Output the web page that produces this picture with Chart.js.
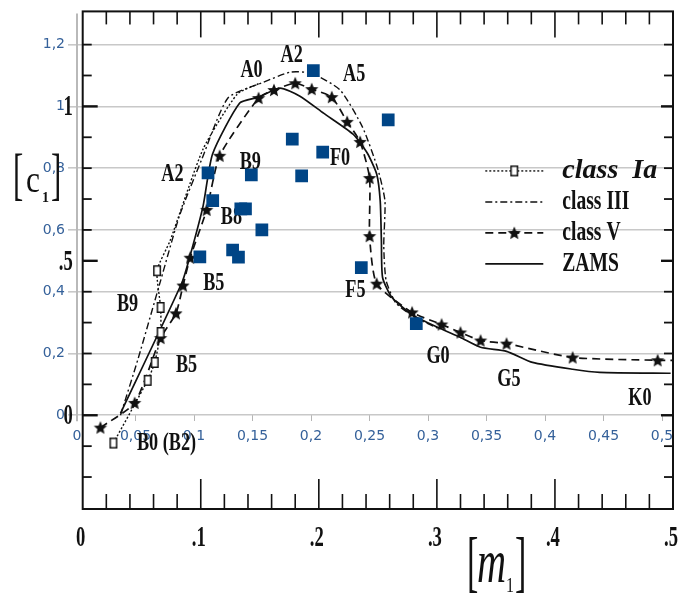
<!DOCTYPE html>
<html lang="en">
<head>
<meta charset="UTF-8">
<title>[c1] – [m1]</title>
<script src="https://cdn.jsdelivr.net/npm/chart.js"></script>
<style>
  html, body { margin: 0; padding: 0; background: #fff; }
</style>
</head>
<body>
<canvas id="chart" width="682" height="601"></canvas>
<script>
// measured stars (blue squares), read on the 0..0.5 / 0..1.2 grid
const starM1 = [0.112, 0.116, 0.105, 0.133, 0.138, 0.140, 0.144, 0.149, 0.158, 0.184, 0.192, 0.210, 0.202, 0.266, 0.243, 0.290];
const starC1 = [0.785, 0.695, 0.513, 0.535, 0.512, 0.668, 0.668, 0.778, 0.600, 0.894, 0.775, 0.852, 1.116, 0.956, 0.478, 0.297];

// standard sequences
const iaM1 = [0.026, 0.055, 0.061, 0.066, 0.066, 0.063, 0.074, 0.102, 0.131, 0.150];
const iaC1 = [-0.090, 0.113, 0.171, 0.268, 0.349, 0.468, 0.565, 0.862, 1.040, 1.075];

const iiiM1 = [0.032, 0.047, 0.066, 0.082, 0.101, 0.123, 0.153, 0.176, 0.194, 0.218, 0.237, 0.250, 0.256, 0.255, 0.257, 0.265, 0.280, 0.303];
const iiiC1 = [0.000, 0.184, 0.436, 0.646, 0.830, 1.027, 1.078, 1.111, 1.107, 1.053, 0.933, 0.797, 0.694, 0.549, 0.436, 0.365, 0.320, 0.278];

const vM1 = [0.015, 0.044, 0.066, 0.079, 0.085, 0.091, 0.105, 0.116, 0.149, 0.162, 0.180, 0.194, 0.211, 0.224, 0.235, 0.243, 0.243, 0.249, 0.279, 0.304, 0.320, 0.337, 0.359, 0.415, 0.487, 0.500];
const vC1 = [-0.040, 0.040, 0.250, 0.330, 0.420, 0.510, 0.665, 0.840, 1.027, 1.053, 1.075, 1.056, 1.030, 0.950, 0.885, 0.768, 0.580, 0.426, 0.333, 0.294, 0.268, 0.242, 0.232, 0.187, 0.178, 0.178];

const zamsM1 = [0.032, 0.084, 0.091, 0.102, 0.110, 0.133, 0.149, 0.167, 0.184, 0.204, 0.229, 0.241, 0.249, 0.252, 0.253, 0.254, 0.262, 0.280, 0.303, 0.320, 0.337, 0.359, 0.381, 0.415, 0.438, 0.498];
const zamsC1 = [0.006, 0.429, 0.517, 0.678, 0.846, 1.011, 1.030, 1.059, 1.033, 0.978, 0.910, 0.849, 0.781, 0.694, 0.565, 0.446, 0.381, 0.323, 0.281, 0.252, 0.220, 0.207, 0.171, 0.149, 0.139, 0.136];

// spectral type marks along the sequences
const spectralTypes = [
  { text: 'A0', m1: 0.143, c1: 1.117 },
  { text: 'A2', m1: 0.177, c1: 1.166 },
  { text: 'A5', m1: 0.230, c1: 1.104 },
  { text: 'A2', m1: 0.076, c1: 0.781 },
  { text: 'B9', m1: 0.142, c1: 0.820 },
  { text: 'B8', m1: 0.126, c1: 0.642 },
  { text: 'F0', m1: 0.218, c1: 0.833 },
  { text: 'B5', m1: 0.111, c1: 0.426 },
  { text: 'B9', m1: 0.038, c1: 0.358 },
  { text: 'B5', m1: 0.088, c1: 0.161 },
  { text: 'B0 (B2)', m1: 0.071, c1: -0.090 },
  { text: 'F5', m1: 0.231, c1: 0.404 },
  { text: 'G0', m1: 0.301, c1: 0.190 },
  { text: 'G5', m1: 0.361, c1: 0.116 },
  { text: 'K0', m1: 0.472, c1: 0.055 }
];

const m1Ticks = [0, 0.05, 0.1, 0.15, 0.2, 0.25, 0.3, 0.35, 0.4, 0.45, 0.5];
const c1Ticks = [0, 0.2, 0.4, 0.6, 0.8, 1, 1.2];
const frameM1Labels = [0, 0.1, 0.2, 0.3, 0.4, 0.5];
const frameC1Labels = [0, 0.5, 1];

const ink = '#111';
const blue = '#004586';
const labelBlue = '#35619a';

const zip = (xs, ys) => xs.map((x, i) => ({ x, y: ys[i] }));
const comma = v => String(Math.round(v * 100) / 100).replace('.', ',');
const dotted = v => v === 0 ? '0' : String(v).replace(/^0/, '');

function makeStar(r) {
  const c = document.createElement('canvas');
  const s = Math.ceil(r * 2 + 2);
  c.width = c.height = s;
  const g = c.getContext('2d');
  g.translate(s / 2, s / 2 + 0.5);
  g.beginPath();
  for (let i = 0; i < 10; i++) {
    const rr = i % 2 ? r * 0.45 : r;
    const a = -Math.PI / 2 + i * Math.PI / 5;
    g.lineTo(rr * Math.cos(a), rr * Math.sin(a));
  }
  g.closePath();
  g.fillStyle = ink;
  g.fill();
  return c;
}

function makeBox(w, h) {
  const c = document.createElement('canvas');
  c.width = w + 2;
  c.height = h + 2;
  const g = c.getContext('2d');
  g.fillStyle = '#fff';
  g.fillRect(1, 1, w, h);
  g.strokeStyle = ink;
  g.lineWidth = 1.5;
  g.strokeRect(1.75, 1.75, w - 1.5, h - 1.5);
  return c;
}

const starImg = makeStar(7);
const boxImg = makeBox(8, 11);

const lineStyles = {
  ia:   { dash: [2, 2],       width: 1.4, marker: boxImg },
  iii:  { dash: [7, 3, 2, 3], width: 1.4, marker: null },
  v:    { dash: [8, 5],       width: 1.7, marker: starImg },
  zams: { dash: [],           width: 1.7, marker: null }
};

const legendRows = [
  { key: 'ia',   text: 'class  Ia', italic: true },
  { key: 'iii',  text: 'class III' },
  { key: 'v',    text: 'class V' },
  { key: 'zams', text: 'ZAMS' }
];

function squeezedText(ctx, text, x, y, font, sx, align) {
  ctx.save();
  ctx.translate(x, y);
  ctx.scale(sx, 1);
  ctx.font = font;
  ctx.textAlign = align || 'center';
  ctx.textBaseline = 'middle';
  ctx.fillText(text, 0, 0);
  ctx.restore();
}

function seg(ctx, x1, y1, x2, y2) {
  ctx.beginPath();
  ctx.moveTo(x1, y1);
  ctx.lineTo(x2, y2);
  ctx.stroke();
}

// old diagram frame, its ticks, spectral types, legend and axis titles
const framePlugin = {
  id: 'frame',
  beforeDatasetsDraw(chart) {
    const { ctx, chartArea: a, scales } = chart;
    const xs = scales.xs, xo = scales.xo, y = scales.y;
    const L = xs.getPixelForValue(0), R = xs.getPixelForValue(0.5);
    ctx.save();

    // left edge of the measurement grid
    ctx.strokeStyle = '#b9b9b9';
    ctx.lineWidth = 2;
    const x0 = xo.getPixelForValue(0);
    seg(ctx, x0, a.top + 2, x0, y.getPixelForValue(0) + 6);

    // frame
    ctx.strokeStyle = ink;
    ctx.lineWidth = 2;
    ctx.strokeRect(L, a.top, R - L, a.bottom - a.top);

    ctx.lineWidth = 1.6;
    for (let i = 1; i < 25; i++) {
      const px = xs.getPixelForValue(i * 0.02);
      const major = i % 5 === 0;
      seg(ctx, px, a.top, px, a.top + (major ? 26 : 13));
      seg(ctx, px, a.bottom, px, a.bottom - (major ? 30 : 15));
    }
    for (let i = -2; i <= 12; i++) {
      const py = y.getPixelForValue(i / 10);
      const major = i % 5 === 0;
      ctx.lineWidth = major ? 2.4 : 1.8;
      seg(ctx, L, py, L + (major ? 15 : 9), py);
      seg(ctx, R, py, R - (major ? 12 : 9), py);
    }

    ctx.fillStyle = ink;
    const tickFont = 'bold 30px "Liberation Serif", "DejaVu Serif", serif';
    frameM1Labels.forEach(v => {
      squeezedText(ctx, dotted(v), xs.getPixelForValue(v) - 2, a.bottom + 29, tickFont, 0.62);
    });
    frameC1Labels.forEach(v => {
      squeezedText(ctx, dotted(v), L - 10, y.getPixelForValue(v) + 1, tickFont, 0.62, 'right');
    });

    const typeFont = 'bold 26px "Liberation Serif", "DejaVu Serif", serif';
    spectralTypes.forEach(t => {
      squeezedText(ctx, t.text, xs.getPixelForValue(t.m1), y.getPixelForValue(t.c1), typeFont, 0.7);
    });

    // legend
    const lx = xs.getPixelForValue(0.341), sampleW = 58;
    let ly = y.getPixelForValue(0.791);
    legendRows.forEach(row => {
      const st = lineStyles[row.key];
      ctx.save();
      ctx.strokeStyle = ink;
      ctx.lineWidth = st.width;
      ctx.setLineDash(st.dash);
      seg(ctx, lx, ly, lx + sampleW, ly);
      ctx.restore();
      if (st.marker) ctx.drawImage(st.marker, lx + sampleW / 2 - st.marker.width / 2, ly - st.marker.height / 2);
      const font = row.italic
        ? 'italic bold 28px "Liberation Serif", "DejaVu Serif", serif'
        : 'bold 28px "Liberation Serif", "DejaVu Serif", serif';
      squeezedText(ctx, row.text, lx + 77, ly, font, row.italic ? 1 : 0.7, 'left');
      ly += 31;
    });

    // axis titles [c1] and [m1]
    ctx.textBaseline = 'alphabetic';
    ctx.textAlign = 'left';
    const put = (text, x, yb, font, sx) => {
      ctx.save();
      ctx.translate(x, yb);
      ctx.scale(sx, 1);
      ctx.font = font;
      ctx.fillText(text, 0, 0);
      ctx.restore();
    };
    put('[', 13, 193, '56px "Liberation Serif", serif', 0.55);
    put('c', 26, 192, '37px "Liberation Serif", serif', 0.85);
    put('1', 42, 202, 'bold 14px "Liberation Serif", serif', 1);
    put(']', 51, 193, '56px "Liberation Serif", serif', 0.55);

    put('[', 467, 584, '68px "Liberation Serif", serif', 0.5);
    put('m', 477, 582, 'italic 61px "Liberation Serif", serif', 0.66);
    put('1', 506, 592, '20px "Liberation Serif", serif', 0.8);
    put(']', 515, 584, '68px "Liberation Serif", serif', 0.5);

    ctx.restore();
  }
};

function curve(label, key, xsData, ysData, extra) {
  const st = lineStyles[key];
  return Object.assign({
    label,
    data: zip(xsData, ysData),
    xAxisID: 'xs',
    yAxisID: 'y',
    showLine: true,
    borderColor: ink,
    borderWidth: st.width,
    borderDash: st.dash,
    tension: 0.2,
    pointStyle: st.marker || 'circle',
    pointRadius: 0,
    order: 1
  }, extra || {});
}

new Chart(document.getElementById('chart'), {
  type: 'scatter',
  data: {
    datasets: [
      {
        label: 'measured',
        data: zip(starM1, starC1),
        xAxisID: 'xo',
        yAxisID: 'y',
        pointStyle: 'rect',
        pointRadius: 9,
        backgroundColor: blue,
        borderWidth: 0,
        order: 0
      },
      curve('class Ia', 'ia', iaM1, iaC1, { pointRadius: c => c.dataIndex < 6 ? 5 : 0 }),
      curve('class III', 'iii', iiiM1, iiiC1),
      curve('class V', 'v', vM1, vC1, { pointRadius: c => c.dataIndex < vM1.length - 1 ? 6 : 0 }),
      curve('ZAMS', 'zams', zamsM1, zamsC1)
    ]
  },
  options: {
    responsive: false,
    animation: false,
    layout: { padding: { top: 10, right: 9, bottom: 92, left: 0 } },
    plugins: { legend: { display: false }, tooltip: { enabled: false } },
    scales: {
      xs: { type: 'linear', display: false, min: -0.00483, max: 0.5 },
      xo: {
        type: 'linear',
        position: { y: 0 },
        min: 0,
        max: 0.5094,
        afterBuildTicks: s => { s.ticks = m1Ticks.map(v => ({ value: v })); },
        border: { display: false },
        grid: { drawOnChartArea: false, drawTicks: true, tickLength: 6, color: '#b5b5b5', lineWidth: 1 },
        ticks: {
          autoSkip: false, maxRotation: 0, padding: 7,
          color: labelBlue,
          font: { family: 'DejaVu Sans', size: 14 },
          callback: v => comma(v)
        }
      },
      y: {
        type: 'linear',
        position: 'left',
        min: -0.3035,
        max: 1.3075,
        afterBuildTicks: s => { s.ticks = c1Ticks.map(v => ({ value: v })); },
        afterFit: s => { s.width = 77; },
        border: { display: false },
        grid: { color: '#c8c8c8', lineWidth: 1.6, tickLength: 9 },
        ticks: {
          padding: 3,
          color: labelBlue,
          font: { family: 'DejaVu Sans', size: 14 },
          callback: v => comma(v)
        }
      }
    }
  },
  plugins: [framePlugin]
});
</script>
</body>
</html>
